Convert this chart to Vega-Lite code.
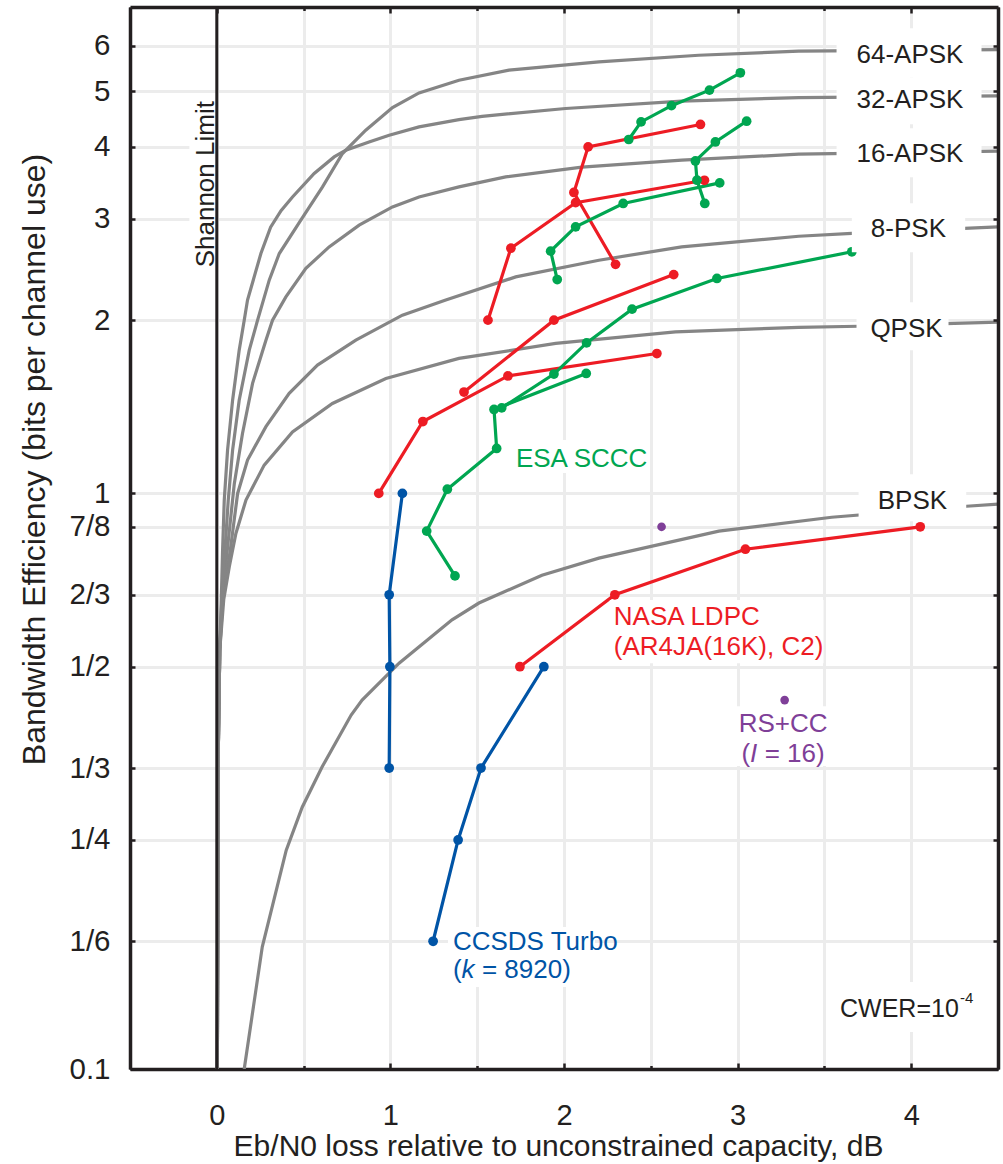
{
  "$schema": "https://vega.github.io/schema/vega-lite/v6.json",
  "width": 868,
  "height": 1062,
  "autosize": {"type": "none"},
  "padding": {"left": 130, "top": 7, "right": 5, "bottom": 95},
  "background": "white",
  "config": {
    "font": "Liberation Sans",
    "view": {"stroke": null},
    "axis": {"labelFont": "Liberation Sans", "titleFont": "Liberation Sans"}
  },
  "datasets": {
    "curves": [
      {"m":"BPSK","x":0.158,"y":0.1},{"m":"BPSK","x":0.262,"y":0.163},{"m":"BPSK","x":0.4,"y":0.24},{"m":"BPSK","x":0.492,"y":0.285},{"m":"BPSK","x":0.607,"y":0.335},{"m":"BPSK","x":0.774,"y":0.412},{"m":"BPSK","x":0.837,"y":0.4375},{"m":"BPSK","x":1.05,"y":0.507},{"m":"BPSK","x":1.355,"y":0.603},{"m":"BPSK","x":1.51,"y":0.645},{"m":"BPSK","x":1.873,"y":0.721},{"m":"BPSK","x":2.201,"y":0.772},{"m":"BPSK","x":2.892,"y":0.86},{"m":"BPSK","x":3.542,"y":0.909},{"m":"BPSK","x":4.318,"y":0.95},{"m":"BPSK","x":4.5,"y":0.958},
      {"m":"QPSK","x":0.003,"y":0.1},{"m":"QPSK","x":0.009,"y":0.365},{"m":"QPSK","x":0.017,"y":0.534},{"m":"QPSK","x":0.04,"y":0.654},{"m":"QPSK","x":0.072,"y":0.746},{"m":"QPSK","x":0.11,"y":0.852},{"m":"QPSK","x":0.168,"y":0.974},{"m":"QPSK","x":0.273,"y":1.12},{"m":"QPSK","x":0.436,"y":1.279},{"m":"QPSK","x":0.666,"y":1.433},{"m":"QPSK","x":0.974,"y":1.584},{"m":"QPSK","x":1.395,"y":1.716},{"m":"QPSK","x":1.952,"y":1.822},{"m":"QPSK","x":2.642,"y":1.909},{"m":"QPSK","x":3.352,"y":1.943},{"m":"QPSK","x":3.697,"y":1.952},{"m":"QPSK","x":4.5,"y":1.984},
      {"m":"8PSK","x":0.003,"y":0.1},{"m":"8PSK","x":0.009,"y":0.365},{"m":"8PSK","x":0.017,"y":0.534},{"m":"8PSK","x":0.0345,"y":0.654},{"m":"8PSK","x":0.0777,"y":0.797},{"m":"8PSK","x":0.12,"y":1.0},{"m":"8PSK","x":0.177,"y":1.143},{"m":"8PSK","x":0.283,"y":1.306},{"m":"8PSK","x":0.417,"y":1.492},{"m":"8PSK","x":0.58,"y":1.671},{"m":"8PSK","x":0.801,"y":1.846},{"m":"8PSK","x":1.069,"y":2.04},{"m":"8PSK","x":1.319,"y":2.167},{"m":"8PSK","x":1.722,"y":2.378},{"m":"8PSK","x":2.201,"y":2.542},{"m":"8PSK","x":2.678,"y":2.681},{"m":"8PSK","x":3.352,"y":2.798},{"m":"8PSK","x":3.658,"y":2.829},{"m":"8PSK","x":4.5,"y":2.905},
      {"m":"16APSK","x":0.003,"y":0.1},{"m":"16APSK","x":0.009,"y":0.365},{"m":"16APSK","x":0.017,"y":0.534},{"m":"16APSK","x":0.0316,"y":0.654},{"m":"16APSK","x":0.0604,"y":0.797},{"m":"16APSK","x":0.101,"y":1.041},{"m":"16APSK","x":0.148,"y":1.271},{"m":"16APSK","x":0.206,"y":1.553},{"m":"16APSK","x":0.283,"y":1.846},{"m":"16APSK","x":0.321,"y":2.0},{"m":"16APSK","x":0.398,"y":2.195},{"m":"16APSK","x":0.513,"y":2.46},{"m":"16APSK","x":0.647,"y":2.681},{"m":"16APSK","x":0.82,"y":2.924},{"m":"16APSK","x":1.012,"y":3.146},{"m":"16APSK","x":1.165,"y":3.274},{"m":"16APSK","x":1.395,"y":3.408},{"m":"16APSK","x":1.664,"y":3.547},{"m":"16APSK","x":2.103,"y":3.688},{"m":"16APSK","x":2.678,"y":3.793},{"m":"16APSK","x":3.352,"y":3.885},{"m":"16APSK","x":4.5,"y":3.932},
      {"m":"32APSK","x":0.003,"y":0.1},{"m":"32APSK","x":0.009,"y":0.365},{"m":"32APSK","x":0.017,"y":0.534},{"m":"32APSK","x":0.0259,"y":0.654},{"m":"32APSK","x":0.0334,"y":0.797},{"m":"32APSK","x":0.043,"y":0.974},{"m":"32APSK","x":0.062,"y":1.189},{"m":"32APSK","x":0.091,"y":1.452},{"m":"32APSK","x":0.129,"y":1.774},{"m":"32APSK","x":0.158,"y":2.0},{"m":"32APSK","x":0.177,"y":2.167},{"m":"32APSK","x":0.254,"y":2.611},{"m":"32APSK","x":0.31,"y":2.9},{"m":"32APSK","x":0.37,"y":3.1},{"m":"32APSK","x":0.436,"y":3.274},{"m":"32APSK","x":0.561,"y":3.596},{"m":"32APSK","x":0.676,"y":3.843},{"m":"32APSK","x":0.743,"y":3.947},{"m":"32APSK","x":0.877,"y":4.08},{"m":"32APSK","x":0.993,"y":4.192},{"m":"32APSK","x":1.165,"y":4.334},{"m":"32APSK","x":1.395,"y":4.46},{"m":"32APSK","x":1.528,"y":4.52},{"m":"32APSK","x":2.009,"y":4.664},{"m":"32APSK","x":2.678,"y":4.802},{"m":"32APSK","x":3.352,"y":4.873},{"m":"32APSK","x":4.5,"y":4.905},
      {"m":"64APSK","x":0.003,"y":0.1},{"m":"64APSK","x":0.009,"y":0.365},{"m":"64APSK","x":0.017,"y":0.534},{"m":"64APSK","x":0.0288,"y":0.654},{"m":"64APSK","x":0.0472,"y":0.797},{"m":"64APSK","x":0.066,"y":0.974},{"m":"64APSK","x":0.091,"y":1.189},{"m":"64APSK","x":0.129,"y":1.452},{"m":"64APSK","x":0.187,"y":1.774},{"m":"64APSK","x":0.235,"y":2.0},{"m":"64APSK","x":0.302,"y":2.347},{"m":"64APSK","x":0.36,"y":2.611},{"m":"64APSK","x":0.484,"y":2.983},{"m":"64APSK","x":0.609,"y":3.408},{"m":"64APSK","x":0.724,"y":3.895},{"m":"64APSK","x":0.858,"y":4.276},{"m":"64APSK","x":1.012,"y":4.68},{"m":"64APSK","x":1.165,"y":4.963},{"m":"64APSK","x":1.395,"y":5.222},{"m":"64APSK","x":1.683,"y":5.436},{"m":"64APSK","x":2.201,"y":5.619},{"m":"64APSK","x":2.776,"y":5.771},{"m":"64APSK","x":3.352,"y":5.865},{"m":"64APSK","x":4.5,"y":5.901}
    ],
    "series": [
      {"c":"NASA","s":"R1","i":0,"x":1.746,"y":0.5},{"c":"NASA","s":"R1","i":1,"x":2.293,"y":0.6667},{"c":"NASA","s":"R1","i":2,"x":3.045,"y":0.8},{"c":"NASA","s":"R1","i":3,"x":4.052,"y":0.875},
      {"c":"NASA","s":"R2","i":0,"x":0.933,"y":1.0},{"c":"NASA","s":"R2","i":1,"x":1.187,"y":1.3333},{"c":"NASA","s":"R2","i":2,"x":1.677,"y":1.6},{"c":"NASA","s":"R2","i":3,"x":2.535,"y":1.75},
      {"c":"NASA","s":"R3","i":0,"x":1.424,"y":1.5},{"c":"NASA","s":"R3","i":1,"x":1.942,"y":2.0},{"c":"NASA","s":"R3","i":2,"x":2.632,"y":2.4},
      {"c":"NASA","s":"R4","i":0,"x":1.562,"y":2.0},{"c":"NASA","s":"R4","i":1,"x":1.694,"y":2.6667},{"c":"NASA","s":"R4","i":2,"x":2.067,"y":3.2},{"c":"NASA","s":"R4","i":3,"x":2.809,"y":3.5},
      {"c":"NASA","s":"R5","i":0,"x":2.297,"y":2.5},{"c":"NASA","s":"R5","i":1,"x":2.057,"y":3.3333},{"c":"NASA","s":"R5","i":2,"x":2.139,"y":4.0},{"c":"NASA","s":"R5","i":3,"x":2.786,"y":4.375},
      {"c":"ESA","s":"G1","i":0,"x":1.372,"y":0.719},{"c":"ESA","s":"G1","i":1,"x":1.209,"y":0.86},{"c":"ESA","s":"G1","i":2,"x":1.328,"y":1.017},{"c":"ESA","s":"G1","i":3,"x":1.612,"y":1.197},{"c":"ESA","s":"G1","i":4,"x":1.597,"y":1.399},{"c":"ESA","s":"G1","i":5,"x":2.128,"y":1.616},
      {"c":"ESA","s":"G2","i":0,"x":1.641,"y":1.408},{"c":"ESA","s":"G2","i":1,"x":1.942,"y":1.612},{"c":"ESA","s":"G2","i":2,"x":2.13,"y":1.826},{"c":"ESA","s":"G2","i":3,"x":2.392,"y":2.09},{"c":"ESA","s":"G2","i":4,"x":2.881,"y":2.363},{"c":"ESA","s":"G2","i":5,"x":3.658,"y":2.629},
      {"c":"ESA","s":"G3","i":0,"x":1.961,"y":2.353},{"c":"ESA","s":"G3","i":1,"x":1.923,"y":2.636},{"c":"ESA","s":"G3","i":2,"x":2.067,"y":2.905},{"c":"ESA","s":"G3","i":3,"x":2.341,"y":3.19},{"c":"ESA","s":"G3","i":4,"x":2.897,"y":3.463},
      {"c":"ESA","s":"G4","i":0,"x":2.811,"y":3.19},{"c":"ESA","s":"G4","i":1,"x":2.766,"y":3.501},{"c":"ESA","s":"G4","i":2,"x":2.757,"y":3.781},{"c":"ESA","s":"G4","i":3,"x":2.872,"y":4.08},{"c":"ESA","s":"G4","i":4,"x":3.052,"y":4.433},
      {"c":"ESA","s":"G5","i":0,"x":2.373,"y":4.12},{"c":"ESA","s":"G5","i":1,"x":2.444,"y":4.42},{"c":"ESA","s":"G5","i":2,"x":2.619,"y":4.717},{"c":"ESA","s":"G5","i":3,"x":2.838,"y":5.02},{"c":"ESA","s":"G5","i":4,"x":3.016,"y":5.38},
      {"c":"CCSDS","s":"B1","i":0,"x":1.069,"y":1.0},{"c":"CCSDS","s":"B1","i":1,"x":0.993,"y":0.6667},{"c":"CCSDS","s":"B1","i":2,"x":0.997,"y":0.5},{"c":"CCSDS","s":"B1","i":3,"x":0.993,"y":0.3333},
      {"c":"CCSDS","s":"B2","i":0,"x":1.884,"y":0.5},{"c":"CCSDS","s":"B2","i":1,"x":1.522,"y":0.3333},{"c":"CCSDS","s":"B2","i":2,"x":1.39,"y":0.25},{"c":"CCSDS","s":"B2","i":3,"x":1.246,"y":0.1667},
      {"c":"RS","s":"P1","i":0,"x":2.562,"y":0.875},{"c":"RS","s":"P2","i":0,"x":3.271,"y":0.4375}
    ],
    "boxes": [
      {"b":"64-APSK","x1":3.57,"x2":4.405,"y1":5.286,"y2":6.431},
      {"b":"32-APSK","x1":3.57,"x2":4.405,"y1":4.381,"y2":5.286},
      {"b":"16-APSK","x1":3.57,"x2":4.405,"y1":3.543,"y2":4.311},
      {"b":"8-PSK","x1":3.658,"x2":4.311,"y1":2.625,"y2":3.193},
      {"b":"QPSK","x1":3.685,"x2":4.215,"y1":1.774,"y2":2.149},
      {"b":"BPSK","x1":3.697,"x2":4.317,"y1":0.895,"y2":1.08},
      {"b":"Shannon","x1":-0.158,"x2":-0.009,"y1":2.443,"y2":4.86},
      {"b":"ESA","x1":1.689,"x2":2.494,"y1":1.085,"y2":1.238},
      {"b":"NASA","x1":2.264,"x2":3.495,"y1":0.507,"y2":0.653},
      {"b":"RS","x1":2.983,"x2":3.53,"y1":0.336,"y2":0.427},
      {"b":"CCSDS","x1":1.332,"x2":2.178,"y1":0.1388,"y2":0.1765},
      {"b":"CWER","x1":3.541,"x2":4.445,"y1":0.116,"y2":0.1416}
    ],
    "curvelabels": [
      {"t":"64-APSK","x":3.993,"y":5.589},
      {"t":"32-APSK","x":3.993,"y":4.67},
      {"t":"16-APSK","x":3.993,"y":3.763},
      {"t":"8-PSK","x":3.984,"y":2.788},
      {"t":"QPSK","x":3.973,"y":1.868},
      {"t":"BPSK","x":4.007,"y":0.938}
    ],
    "notes": [
      {"t":"ESA SCCC","c":"ESA","x":1.723,"y":1.112},
      {"t":"NASA LDPC","c":"NASA","x":2.287,"y":0.5905},
      {"t":"(AR4JA(16K), C2)","c":"NASA","x":2.287,"y":0.5237},
      {"t":"RS+CC","c":"RS","x":3.006,"y":0.3854},
      {"t":"(","c":"RS","x":3.022,"y":0.3418},
      {"t":"I","c":"RS","x":3.072,"y":0.3418},
      {"t":"= 16)","c":"RS","x":3.156,"y":0.3418},
      {"t":"CCSDS Turbo","c":"CCSDS","x":1.36,"y":0.1609},
      {"t":"(","c":"CCSDS","x":1.36,"y":0.1439},
      {"t":"k","c":"CCSDS","x":1.41,"y":0.1439},
      {"t":"= 8920)","c":"CCSDS","x":1.527,"y":0.1439}
    ],
    "misc": [
      {"k":"shannon","t":"Shannon Limit","x":-0.0144,"y":3.445},
      {"k":"cwer","t":"CWER=10","x":3.59,"y":0.1232},
      {"k":"exp","t":"-4","x":4.281,"y":0.1302}
    ]
  },
  "resolve": {"axis": {"x": "independent", "y": "independent"}},
  "layer": [
    {
      "data": {"name": "curves"},
      "mark": {"type": "line", "color": "#858585", "strokeWidth": 3.2, "clip": true},
      "encoding": {
        "x": {"field": "x", "type": "quantitative", "scale": {"domain": [-0.5, 4.5], "nice": false, "zero": false},
          "axis": {
            "orient": "bottom",
            "values": [-0.5, 0, 0.5, 1, 1.5, 2, 2.5, 3, 3.5, 4, 4.5],
            "grid": true, "gridColor": "#ececec", "gridWidth": 3,
            "domain": true, "domainColor": "#231f20", "domainWidth": 3.5,
            "ticks": true, "tickColor": "#231f20", "tickWidth": 2.5,
            "tickSize": {"condition": {"test": "datum.value % 1 !== 0", "value": -3.5}, "value": -6},
            "labelExpr": "datum.value % 1 === 0 ? format(datum.value, 'd') : ''",
            "labelFontSize": 29, "labelColor": "#231f20", "labelPadding": 38, "labelFlush": false, "labelOverlap": false, "labelDx": 4,
            "title": "Eb/N0 loss relative to unconstrained capacity, dB",
            "titleFontSize": 30, "titleFontWeight": "normal", "titleColor": "#231f20",
            "titleX": 428, "titleY": 86, "titleBaseline": "alphabetic", "titleAlign": "center",
            "zindex": 0
          }},
        "y": {"field": "y", "type": "quantitative", "scale": {"type": "log", "domain": [0.1, 7], "nice": false},
          "axis": {
            "orient": "left",
            "values": [0.1, 0.1666667, 0.25, 0.3333333, 0.5, 0.6666667, 0.875, 1, 2, 3, 4, 5, 6],
            "grid": true, "gridColor": "#ececec", "gridWidth": 3,
            "domain": true, "domainColor": "#231f20", "domainWidth": 3.5,
            "ticks": true, "tickColor": "#231f20", "tickWidth": 2.5, "tickSize": -5,
            "labelExpr": "datum.value < 0.12 ? '0.1' : datum.value < 0.2 ? '1/6' : datum.value < 0.3 ? '1/4' : datum.value < 0.4 ? '1/3' : datum.value < 0.6 ? '1/2' : datum.value < 0.7 ? '2/3' : datum.value < 0.95 ? '7/8' : format(datum.value, 'd')",
            "labelFontSize": 29.5, "labelColor": "#231f20", "labelPadding": 25, "labelOverlap": false, "labelFlush": false, "labelBaseline": "middle", "labelDy": 5,
            "title": "Bandwidth Efficiency (bits per channel use)",
            "titleFontSize": 32, "titleFontWeight": "normal", "titleColor": "#231f20",
            "titleX": -86, "titleY": 452, "titleAngle": 270, "titleAlign": "center", "titleBaseline": "alphabetic",
            "zindex": 0
          }},
        "detail": {"field": "m"}
      }
    },
    {
      "data": {"name": "series"},
      "transform": [{"filter": "datum.c !== 'RS'"}],
      "mark": {"type": "line", "strokeWidth": 3.2, "clip": true},
      "encoding": {
        "x": {"field": "x", "type": "quantitative", "scale": {"domain": [-0.5, 4.5], "nice": false, "zero": false}, "axis": null},
        "y": {"field": "y", "type": "quantitative", "scale": {"type": "log", "domain": [0.1, 7], "nice": false}, "axis": null},
        "color": {"field": "c", "type": "nominal", "scale": {"domain": ["NASA", "ESA", "CCSDS", "RS"], "range": ["#ed1c24", "#00a651", "#0054a6", "#7f3f98"]}, "legend": null},
        "detail": {"field": "s"},
        "order": {"field": "i"}
      }
    },
    {
      "data": {"name": "series"},
      "transform": [{"filter": "datum.c !== 'RS'"}],
      "mark": {"type": "circle", "size": 95, "opacity": 1},
      "encoding": {
        "x": {"field": "x", "type": "quantitative", "scale": {"domain": [-0.5, 4.5], "nice": false, "zero": false}, "axis": null},
        "y": {"field": "y", "type": "quantitative", "scale": {"type": "log", "domain": [0.1, 7], "nice": false}, "axis": null},
        "color": {"field": "c", "type": "nominal", "legend": null}
      }
    },
    {
      "data": {"name": "series"},
      "transform": [{"filter": "datum.c === 'RS'"}],
      "mark": {"type": "circle", "size": 75, "opacity": 1},
      "encoding": {
        "x": {"field": "x", "type": "quantitative", "scale": {"domain": [-0.5, 4.5], "nice": false, "zero": false}, "axis": null},
        "y": {"field": "y", "type": "quantitative", "scale": {"type": "log", "domain": [0.1, 7], "nice": false}, "axis": null},
        "color": {"field": "c", "type": "nominal", "legend": null}
      }
    },
    {
      "data": {"name": "boxes"},
      "mark": {"type": "rect", "color": "white", "opacity": 1},
      "encoding": {
        "x": {"field": "x1", "type": "quantitative", "scale": {"domain": [-0.5, 4.5], "nice": false, "zero": false}, "axis": null},
        "x2": {"field": "x2"},
        "y": {"field": "y1", "type": "quantitative", "scale": {"type": "log", "domain": [0.1, 7], "nice": false}, "axis": null},
        "y2": {"field": "y2"}
      }
    },
    {
      "data": {"values": [{"x": 0}]},
      "mark": {"type": "rule", "color": "#231f20", "strokeWidth": 3},
      "encoding": {
        "x": {"field": "x", "type": "quantitative", "scale": {"domain": [-0.5, 4.5], "nice": false, "zero": false}, "axis": null}
      }
    },
    {
      "data": {"name": "curvelabels"},
      "mark": {"type": "text", "fontSize": 26, "color": "#231f20", "align": "center", "baseline": "alphabetic", "font": "Liberation Sans"},
      "encoding": {
        "x": {"field": "x", "type": "quantitative", "scale": {"domain": [-0.5, 4.5], "nice": false, "zero": false},
          "axis": {"orient": "top", "values": [-0.5, 0, 0.5, 1, 1.5, 2, 2.5, 3, 3.5, 4, 4.5], "grid": false, "labels": false, "title": null,
            "domain": true, "domainColor": "#231f20", "domainWidth": 3.5, "ticks": true, "tickColor": "#231f20", "tickWidth": 2.5,
            "tickSize": {"condition": {"test": "datum.value % 1 !== 0", "value": -3.5}, "value": -6}, "zindex": 1}},
        "y": {"field": "y", "type": "quantitative", "scale": {"type": "log", "domain": [0.1, 7], "nice": false},
          "axis": {"orient": "right", "values": [0.1, 0.1666667, 0.25, 0.3333333, 0.5, 0.6666667, 0.875, 1, 2, 3, 4, 5, 6], "grid": false, "labels": false, "title": null,
            "domain": true, "domainColor": "#231f20", "domainWidth": 3.5, "ticks": true, "tickColor": "#231f20", "tickWidth": 2.5, "tickSize": -5, "zindex": 1}},
        "text": {"field": "t"}
      }
    },
    {
      "data": {"name": "notes"},
      "transform": [{"filter": "datum.t !== 'k' && datum.t !== 'I'"}],
      "mark": {"type": "text", "fontSize": 26, "align": "left", "baseline": "alphabetic", "font": "Liberation Sans"},
      "encoding": {
        "x": {"field": "x", "type": "quantitative", "scale": {"domain": [-0.5, 4.5], "nice": false, "zero": false}, "axis": null},
        "y": {"field": "y", "type": "quantitative", "scale": {"type": "log", "domain": [0.1, 7], "nice": false}, "axis": null},
        "color": {"field": "c", "type": "nominal", "legend": null},
        "text": {"field": "t"}
      }
    },
    {
      "data": {"name": "notes"},
      "transform": [{"filter": "datum.t === 'k' || datum.t === 'I'"}],
      "mark": {"type": "text", "fontSize": 26, "fontStyle": "italic", "align": "left", "baseline": "alphabetic", "font": "Liberation Sans"},
      "encoding": {
        "x": {"field": "x", "type": "quantitative", "scale": {"domain": [-0.5, 4.5], "nice": false, "zero": false}, "axis": null},
        "y": {"field": "y", "type": "quantitative", "scale": {"type": "log", "domain": [0.1, 7], "nice": false}, "axis": null},
        "color": {"field": "c", "type": "nominal", "legend": null},
        "text": {"field": "t"}
      }
    },
    {
      "data": {"name": "misc"},
      "transform": [{"filter": "datum.k === 'shannon'"}],
      "mark": {"type": "text", "fontSize": 26, "color": "#231f20", "align": "center", "baseline": "alphabetic", "angle": 270, "font": "Liberation Sans"},
      "encoding": {
        "x": {"field": "x", "type": "quantitative", "scale": {"domain": [-0.5, 4.5], "nice": false, "zero": false}, "axis": null},
        "y": {"field": "y", "type": "quantitative", "scale": {"type": "log", "domain": [0.1, 7], "nice": false}, "axis": null},
        "text": {"field": "t"}
      }
    },
    {
      "data": {"name": "misc"},
      "transform": [{"filter": "datum.k === 'cwer'"}],
      "mark": {"type": "text", "fontSize": 25, "color": "#231f20", "align": "left", "baseline": "alphabetic", "font": "Liberation Sans"},
      "encoding": {
        "x": {"field": "x", "type": "quantitative", "scale": {"domain": [-0.5, 4.5], "nice": false, "zero": false}, "axis": null},
        "y": {"field": "y", "type": "quantitative", "scale": {"type": "log", "domain": [0.1, 7], "nice": false}, "axis": null},
        "text": {"field": "t"}
      }
    },
    {
      "data": {"name": "misc"},
      "transform": [{"filter": "datum.k === 'exp'"}],
      "mark": {"type": "text", "fontSize": 15, "color": "#231f20", "align": "left", "baseline": "alphabetic", "font": "Liberation Sans"},
      "encoding": {
        "x": {"field": "x", "type": "quantitative", "scale": {"domain": [-0.5, 4.5], "nice": false, "zero": false}, "axis": null},
        "y": {"field": "y", "type": "quantitative", "scale": {"type": "log", "domain": [0.1, 7], "nice": false}, "axis": null},
        "text": {"field": "t"}
      }
    }
  ]
}
